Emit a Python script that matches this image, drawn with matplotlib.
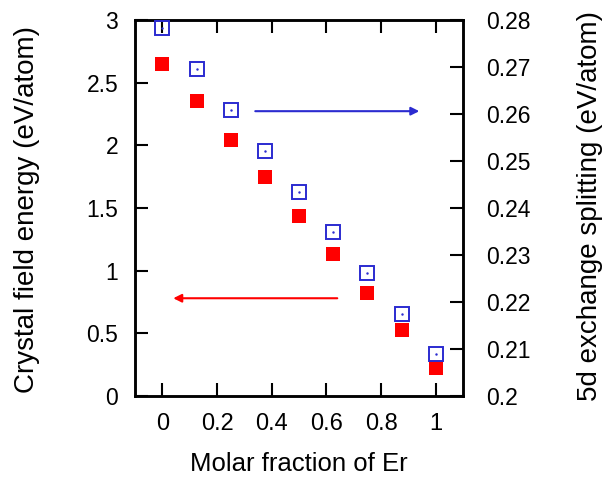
import matplotlib
matplotlib.use("Agg")
import matplotlib.pyplot as plt

plt.rcParams['font.family'] = ['Liberation Sans', 'DejaVu Sans']

# ── data ──────────────────────────────────────────────────────
molar_fraction = [0.0, 0.125, 0.25, 0.375, 0.5, 0.625, 0.75, 0.875, 1.0]
crystal_field = [2.65, 2.35, 2.04, 1.75, 1.44, 1.13, 0.82, 0.53, 0.22]
exchange_5d = [0.2783, 0.2696, 0.2609, 0.2521, 0.2434, 0.2349, 0.2262, 0.2174, 0.2089]

x_ticks = [0, 0.2, 0.4, 0.6, 0.8, 1]
x_ticklabels = ["0", "0.2", "0.4", "0.6", "0.8", "1"]
left_ticks = [0, 0.5, 1, 1.5, 2, 2.5, 3]
left_ticklabels = ["0", "0.5", "1", "1.5", "2", "2.5", "3"]
right_ticks = [0.2, 0.21, 0.22, 0.23, 0.24, 0.25, 0.26, 0.27, 0.28]
right_ticklabels = ["0.2", "0.21", "0.22", "0.23", "0.24", "0.25", "0.26", "0.27", "0.28"]

RED = "#ff0000"
BLUE = "#2b2bd0"

fig = plt.figure(figsize=(6.07, 4.83), dpi=100)
ax = fig.add_axes([0.2224, 0.1801, 0.5404, 0.7785])
ax2 = ax.twinx()

ax.plot(molar_fraction, crystal_field, "s", color=RED, markersize=10.5,
        markeredgewidth=0, clip_on=False, zorder=3)
ax2.plot(molar_fraction, exchange_5d, "s", markerfacecolor="none",
         markeredgecolor=BLUE, markersize=9.6, markeredgewidth=1.4, zorder=3)
ax2.plot(molar_fraction, exchange_5d, ".", color=BLUE, markersize=1.5, zorder=3)

ax.set_xlim(-0.1, 1.1)
ax.set_ylim(0, 3)
ax2.set_ylim(0.2, 0.28)
ax.set_xticks(x_ticks)
ax.set_xticklabels(x_ticklabels)
ax.set_yticks(left_ticks)
ax.set_yticklabels(left_ticklabels)
ax2.set_yticks(right_ticks)
ax2.set_yticklabels(right_ticklabels)

# arrows pointing to each axis
ax2.annotate("", xy=(0.94, 0.2606), xytext=(0.34, 0.2606),
             arrowprops=dict(arrowstyle="-|>", color=BLUE, lw=1.5,
                             mutation_scale=12, shrinkA=0, shrinkB=0))
ax.annotate("", xy=(0.04, 0.78), xytext=(0.64, 0.78),
            arrowprops=dict(arrowstyle="-|>", color=RED, lw=1.5,
                            mutation_scale=12, shrinkA=0, shrinkB=0))

ax.tick_params(axis="x", direction="in", top=True, length=9.5, width=1.5,
               labelsize=17, pad=12)
ax.tick_params(axis="y", direction="in", length=9.5, width=1.5, labelsize=16.5, pad=12)
ax2.tick_params(axis="y", direction="in", length=9.5, width=1.5, labelsize=16.5, pad=16.5)
for a in (ax, ax2):
    for s in a.spines.values():
        s.set_linewidth(1.8)

ax.set_xlabel("Molar fraction of Er", fontsize=18.5)
ax.xaxis.set_label_coords(0.5, -0.149)
ax.text(-0.33, 0.497, "Crystal field energy (eV/atom)", fontsize=20,
        rotation=90, ha="center", va="center", transform=ax.transAxes)
ax.text(1.387, 0.505, "5d exchange splitting (eV/atom)", fontsize=20,
        rotation=90, ha="center", va="center", transform=ax.transAxes)

fig.savefig("out.png", dpi=100)
